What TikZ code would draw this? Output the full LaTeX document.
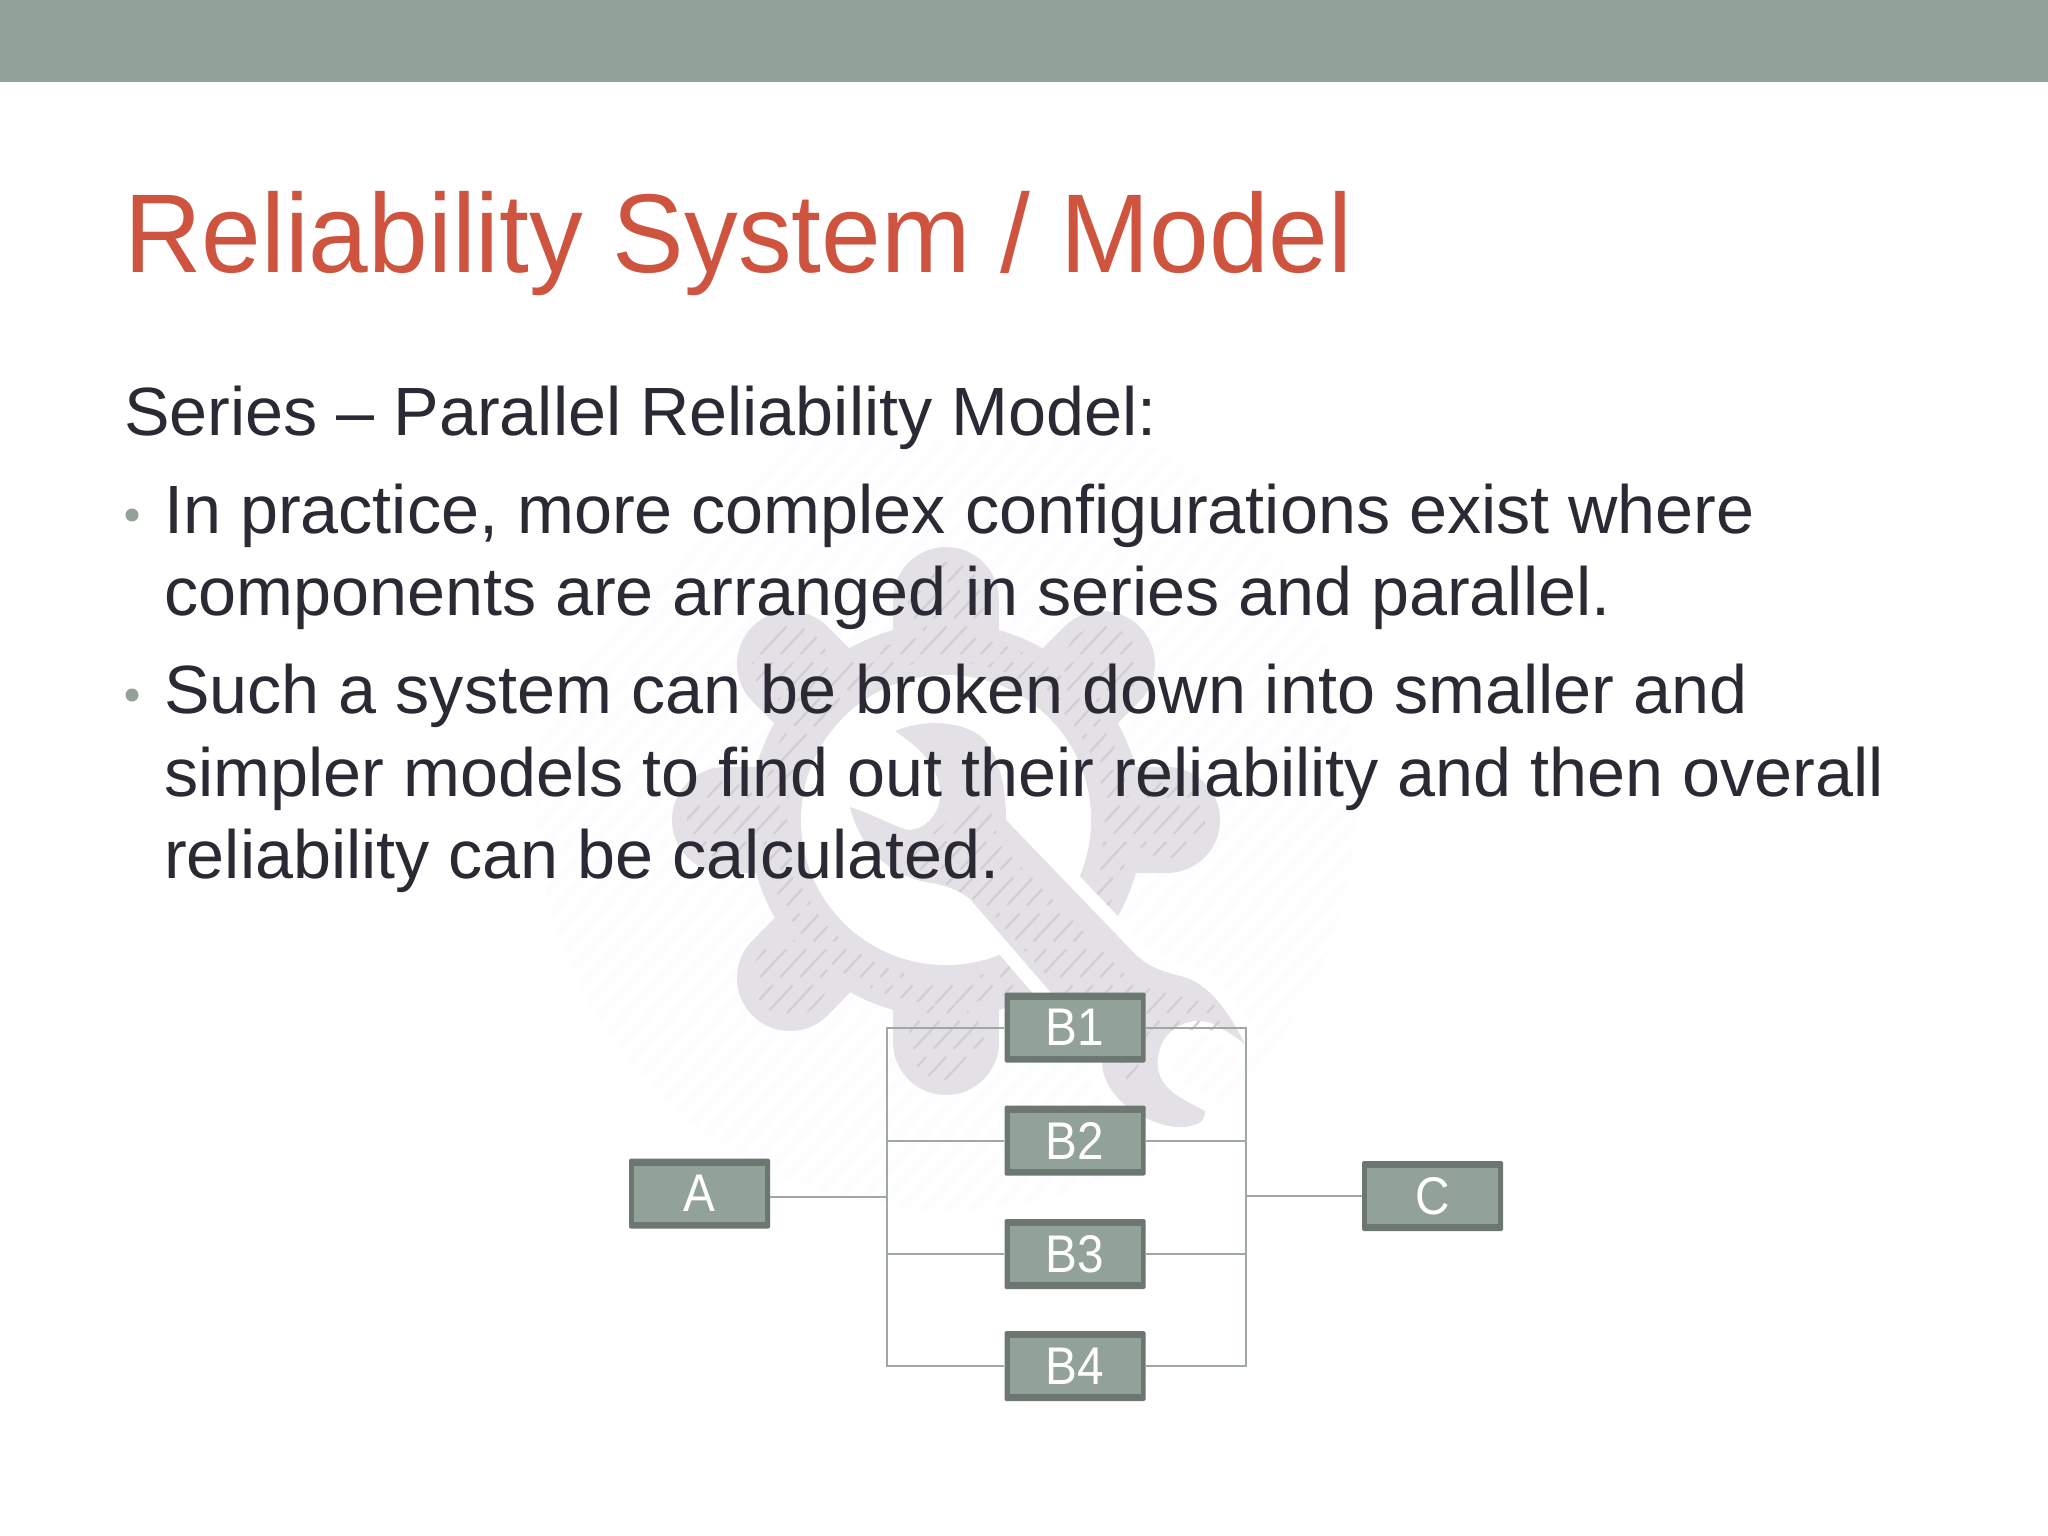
\documentclass[tikz,border=0pt]{standalone}
\usepackage{fontspec}
\setmainfont{Liberation Sans}
\newfontfamily\titlefont[FakeStretch=0.958]{Liberation Sans}
\newfontfamily\blockfont[FakeStretch=0.9]{Liberation Sans}
\definecolor{band}{HTML}{93A299}
\definecolor{bandedge}{HTML}{6C7772}
\definecolor{titlered}{HTML}{CF543F}
\definecolor{bodyink}{HTML}{2B2A34}
\definecolor{gearfill}{HTML}{E3E0E6}
\definecolor{gearhatch}{HTML}{D0CDD4}
\definecolor{faint}{HTML}{FDFCFE}
\definecolor{wire}{HTML}{9FA9A4}
\newcommand{\hatchlines}{\foreach \hx in {0,20,...,1600} {\draw[gearhatch,line width=2.2pt,dash pattern=on 38pt off 11pt] (\hx,1300) -- ++(800,-860);}}
\newcommand{\wrenchpath}{(895,731) .. controls (926,718) and (960,722) .. (979,735) .. controls (998,750) and (1006,785) .. (1006,820) -- (1136,955) .. controls (1150,968) and (1165,972) .. (1176,975) .. controls (1205,980) and (1225,1005) .. (1245,1044) .. controls (1225,1030) and (1212,1020) .. (1198,1021) .. controls (1170,1022) and (1155,1045) .. (1158,1069) .. controls (1162,1090) and (1180,1098) .. (1205,1111) .. controls (1205,1122) and (1198,1125) .. (1185,1127) .. controls (1165,1128) and (1145,1120) .. (1125,1105) .. controls (1108,1090) and (1098,1070) .. (1104,1054) -- (970,899) .. controls (955,888) and (945,885) .. (925,882) .. controls (895,875) and (862,855) .. (850,807) .. controls (875,815) and (890,825) .. (908,830) .. controls (930,830) and (945,805) .. (939,785) .. controls (935,760) and (915,745) .. (895,731) -- cycle}
\tikzset{
  pagetext/.style={anchor=base west,inner sep=0pt,text=bodyink,font=\fontsize{68.3}{68.3}\selectfont},
  blockbox/.style={fill=bandedge,rounded corners=1.5pt,minimum width=141pt,minimum height=70pt,inner sep=0pt,text=white,font=\blockfont\fontsize{53}{53}\selectfont,
    path picture={\fill[band,sharp corners] ([xshift=5pt,yshift=-7pt]path picture bounding box.north west) rectangle ([xshift=-5pt,yshift=7pt]path picture bounding box.south east);}},
  wiring/.style={draw=wire,line width=2pt},
  bulletdot/.style={circle,fill=band,inner sep=0pt,minimum size=13pt}
}
\begin{document}
\begin{tikzpicture}[x=1pt,y=-1pt]
\useasboundingbox (0,0) rectangle (2048,1536);
\fill[white] (0,0) rectangle (2048,1536);
\fill[band] (0,0) rectangle (2048,82);
% faint watermark stripes
\begin{scope}
\clip (946,800) circle (410);
\foreach \hx in {0,24,...,1600} {\draw[faint,line width=8pt] (\hx,1300) -- ++(800,-860);}
\end{scope}
% gear
\fill[gearfill,even odd rule] (946,820) circle (197) (946,820) circle (145);
\foreach \gx/\gy in {1167/820,1102/664,946/600,790/664,725/820,790/978,946/1042} {
  \path (946,820) -- (\gx,\gy) coordinate[pos=0.7] (gb) coordinate[pos=1] (ge);
  \draw[gearfill,line width=106pt,line cap=round] (gb) -- (ge);
}
\fill[white] (946,820) circle (145);
\begin{scope}[even odd rule]
\clip (946,820) circle (184) (946,820) circle (159);
\hatchlines
\end{scope}
\begin{scope}
\clip (1167,820) circle (38) (1102,664) circle (38) (946,600) circle (38) (790,664) circle (38) (725,820) circle (38) (790,978) circle (38) (946,1042) circle (38);
\hatchlines
\end{scope}
% wrench with white gap around it
\draw[white,line width=28pt,line join=round] \wrenchpath;
\fill[gearfill] \wrenchpath;
\begin{scope}
\clip (1000,845) -- (1135,985) -- (1215,1005) -- (1225,1030) -- (1150,1030) -- (1130,1090) -- (1120,1060) -- (985,905) -- (900,860) -- (985,790) -- cycle;
\hatchlines
\end{scope}
% header texts
\node[anchor=base west,inner sep=0pt,text=titlered,font=\titlefont\fontsize{112}{112}\selectfont] (title) at (124,272) {Reliability System / Model};
\node[pagetext] (lead) at (124,435) {Series – Parallel Reliability Model:};
\node[bulletdot] (dotone) at (132,515) {};
\node[pagetext] (l1) at (164,533) {In practice, more complex configurations exist where};
\node[pagetext] (l2) at (164,615) {components are arranged in series and parallel.};
\node[bulletdot] (dottwo) at (132,695) {};
\node[pagetext] (l3) at (164,713) {Such a system can be broken down into smaller and};
\node[pagetext] (l4) at (164,796) {simpler models to find out their reliability and then overall};
\node[pagetext] (l5) at (164,878) {reliability can be calculated.};
% blocks
\coordinate (LT) at (887,1028);
\coordinate (LB) at (887,1366);
\coordinate (RT) at (1246,1028);
\coordinate (RB) at (1246,1366);
\node[blockbox] (A) at (699.5,1193.5) {A};
\node[blockbox] (B1) at (1075,1027.5) {B1};
\node[blockbox] (B2) at (1075,1140.5) {B2};
\node[blockbox] (B3) at (1075,1254) {B3};
\node[blockbox] (B4) at (1075,1366) {B4};
\node[blockbox] (C) at (1432.5,1196) {C};
\draw[wiring] (B1.west) -- (B1.west -| LT) -- (LB -| LT) -- (B4.west);
\draw[wiring] (B1.east) -- (B1.east -| RT) -- (RB -| RT) -- (B4.east);
\draw[wiring] (B2.west) -- (B2.west -| LT);
\draw[wiring] (B3.west) -- (B3.west -| LT);
\draw[wiring] (B2.east) -- (B2.east -| RT);
\draw[wiring] (B3.east) -- (B3.east -| RT);
\draw[wiring] ([yshift=-3pt]A.east) -- ([yshift=-3pt]A.east -| LT);
\draw[wiring] (C.west) -- (C.west -| RT);
\end{tikzpicture}
\end{document}
